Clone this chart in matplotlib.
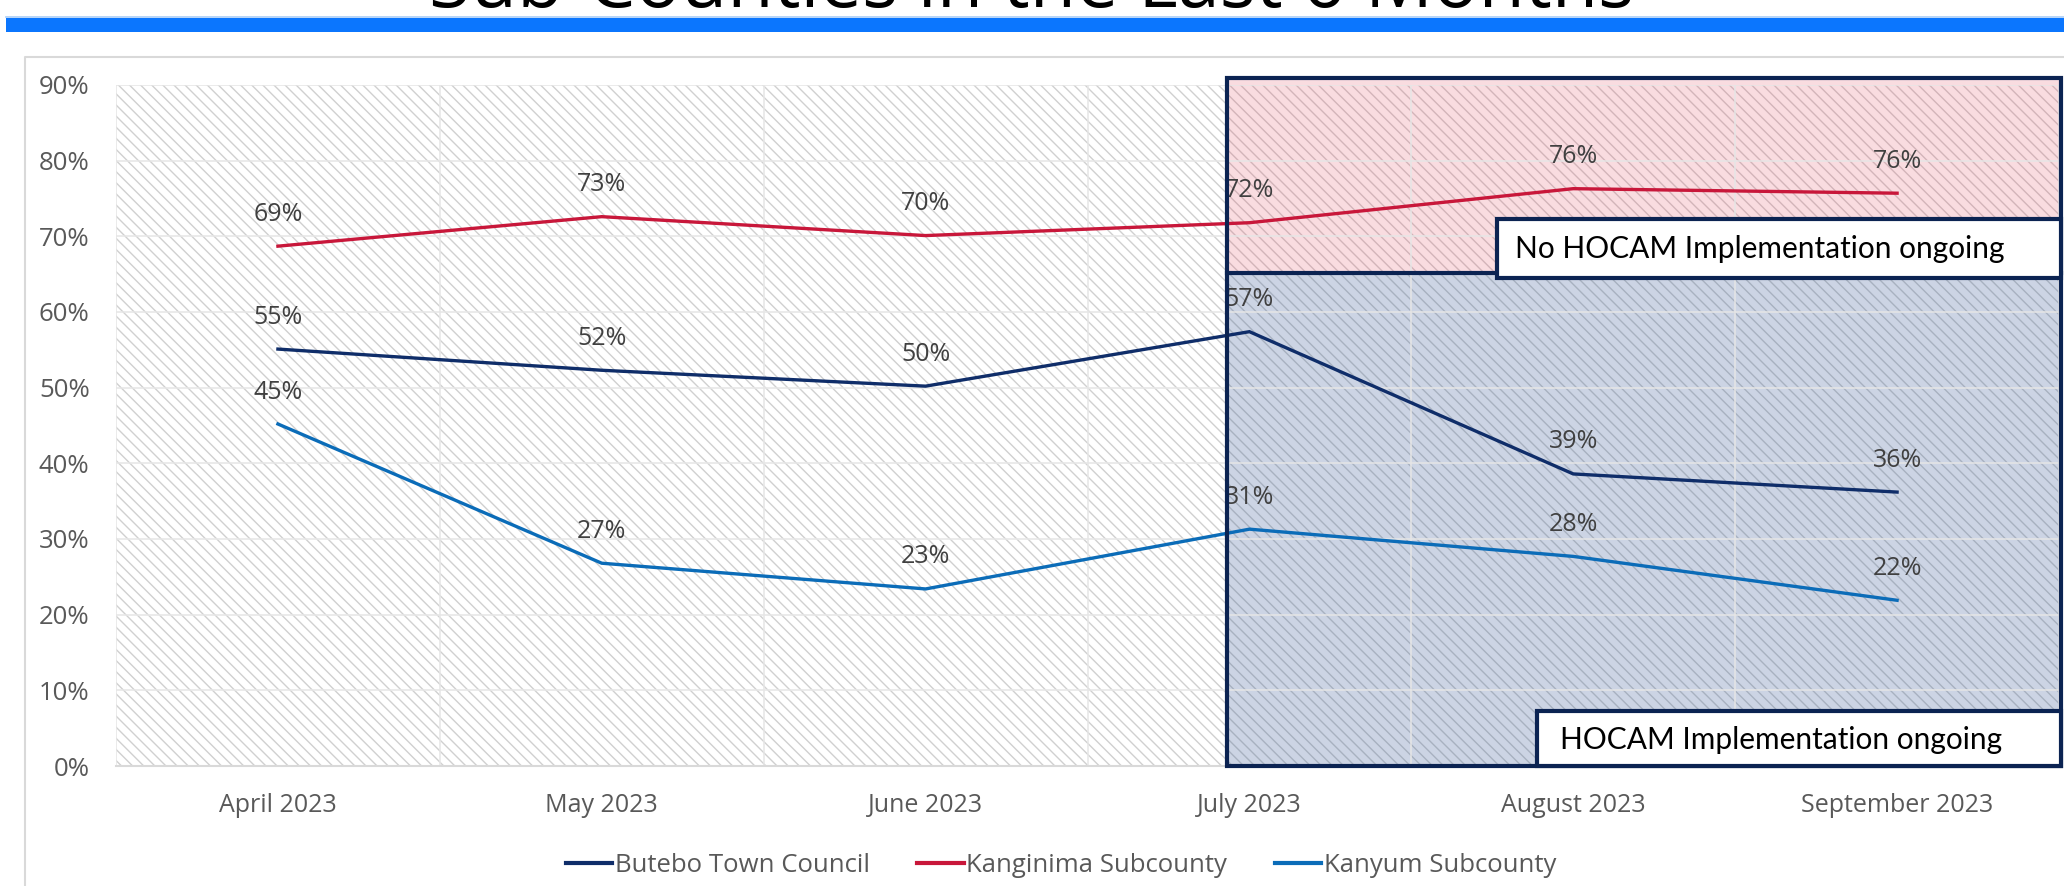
import numpy as np
import matplotlib
matplotlib.use("Agg")
import matplotlib.pyplot as plt
from matplotlib.patches import Rectangle
from matplotlib.lines import Line2D

months = ["April 2023", "May 2023", "June 2023", "July 2023", "August 2023", "September 2023"]
butebo = [55.1, 52.3, 50.2, 57.4, 38.6, 36.2]
kanginima = [68.7, 72.6, 70.1, 71.8, 76.3, 75.7]
kanyum = [45.2, 26.8, 23.4, 31.3, 27.7, 21.9]
series_names = ["Butebo Town Council", "Kanginima Subcounty", "Kanyum Subcounty"]
series_colors = ["#0f2d69", "#c8173a", "#0b6cb8"]
y_ticks = [0, 10, 20, 30, 40, 50, 60, 70, 80, 90]
title = "Sub-Counties in the Last 6 Months"
note_top = "No HOCAM Implementation ongoing"
note_bottom = "HOCAM Implementation ongoing"

plt.rcParams["font.family"] = ["Open Sans", "DejaVu Sans"]
plt.rcParams["hatch.linewidth"] = 1.0

W, H = 2064, 886
fig = plt.figure(figsize=(W / 100, H / 100), dpi=100)

# title is cut off by the top edge, only its lower part shows above the banner
t = fig.text(0.5, 1 - 7 / H, title, ha="center", va="baseline", fontsize=44, color="black")
r = fig.canvas.get_renderer()
w = t.get_window_extent(r).width
t.set_fontsize(44 * 1205 / w)
fig.add_artist(Rectangle((6 / W, 1 - 32 / H), 1, 14 / H, transform=fig.transFigure,
                         facecolor="#0b76fe", edgecolor="none"))
fig.add_artist(Line2D([6 / W, 1], [1 - 16.5 / H] * 2, transform=fig.transFigure,
                      color="#a9cdf7", lw=1.2))
# chart frame
fig.add_artist(Line2D([25 / W, 25 / W, 1], [0, 1 - 57 / H, 1 - 57 / H], transform=fig.transFigure,
                      color="#d9d9d9", lw=1.5))

ax = fig.add_axes([116 / W, 120 / H, (2059 - 116) / W, (766 - 85) / H])
x = np.arange(len(months))
ax.set_xlim(-0.5, len(months) - 0.5)
ax.set_ylim(0, 90)

# hatched background
ax.add_patch(Rectangle((-0.5, 0), len(months), 90, facecolor="white", edgecolor="#d0d0d0",
                       hatch="\\\\\\", lw=0, zorder=0.2))

# highlighted periods
bx0, bx1, ytop, ydiv = 2.93, 5.505, 90.9, 65.2
ax.add_patch(Rectangle((bx0, ydiv), bx1 - bx0, ytop - ydiv, facecolor="#e0304a", alpha=0.17,
                       lw=0, zorder=0.3, clip_on=False))
ax.add_patch(Rectangle((bx0, 0), bx1 - bx0, ydiv, facecolor="#2a4f8f", alpha=0.24,
                       lw=0, zorder=0.3))

ax.set_axisbelow(True)
ax.set_yticks(y_ticks)
ax.set_yticklabels([f"{v}%" for v in y_ticks])
ax.set_xticks(x)
ax.set_xticklabels(months)
ax.set_xticks(np.arange(-0.5, len(months), 0.5), minor=True)
ax.grid(axis="y", color="#e6e6e6", lw=1.1)
ax.grid(axis="x", which="minor", color="#e6e6e6", lw=1.1)
ax.tick_params(axis="both", which="both", length=0, labelcolor="#595959")
ax.tick_params(axis="y", pad=19, labelsize=18.5)
ax.tick_params(axis="x", pad=19.5, labelsize=18)
for s in ["top", "right", "left"]:
    ax.spines[s].set_visible(False)
ax.spines["bottom"].set_color("#d9d9d9")
ax.spines["bottom"].set_linewidth(1.5)

for vals, name, col in zip([butebo, kanginima, kanyum], series_names, series_colors):
    ax.plot(x, vals, color=col, lw=2.4, label=name, zorder=2, solid_joinstyle="miter")
    for xi, v in zip(x, vals):
        ax.annotate(f"{round(v)}%", (xi, v), xytext=(0, 23), textcoords="offset points",
                    ha="center", va="center", fontsize=18, color="#404040", zorder=3)

# outlines of the periods
ax.add_patch(Rectangle((bx0, 0), bx1 - bx0, ytop, facecolor="none", edgecolor="#0b2352",
                       lw=3, zorder=4, clip_on=False))
ax.plot([bx0, bx1], [ydiv, ydiv], color="#0b2352", lw=3, zorder=4, clip_on=False)

# note boxes
ax.add_patch(Rectangle((3.765, 64.5), bx1 - 3.765, 72.35 - 64.5, facecolor="white",
                       edgecolor="#0b2352", lw=3, zorder=5, clip_on=False))
ax.text(3.82, 68.3, note_top, fontsize=21.5, family=["Lato", "DejaVu Sans"], color="black",
        va="center", ha="left", zorder=6)
ax.add_patch(Rectangle((3.888, 0), bx1 - 3.888, 7.27, facecolor="white",
                       edgecolor="#0b2352", lw=3, zorder=5, clip_on=False))
ax.text(3.96, 3.4, note_bottom, fontsize=21.5, family=["Lato", "DejaVu Sans"], color="black",
        va="center", ha="left", zorder=6)

handles = [Line2D([], [], color=c, lw=3) for c in series_colors]
fig.legend(handles, series_names, loc="center", bbox_to_anchor=(1061 / W, 21 / H), ncol=3,
           frameon=False, fontsize=18.5, labelcolor="#595959", handlelength=1.8,
           handletextpad=0.1, columnspacing=1.85)

fig.savefig("out.png", dpi=100)
